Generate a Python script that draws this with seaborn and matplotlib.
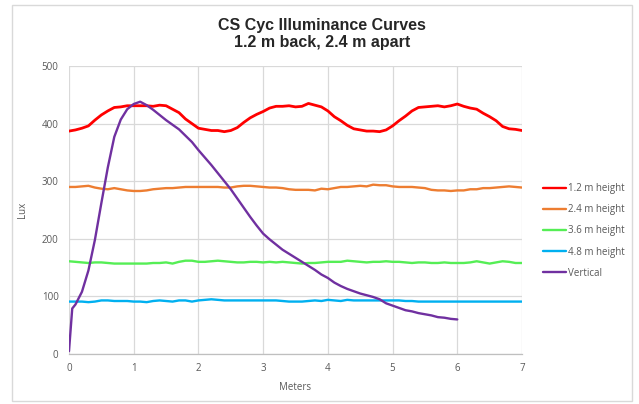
import numpy as np
import pandas as pd
import matplotlib
matplotlib.use("Agg")
import matplotlib.pyplot as plt
import seaborn as sns
from matplotlib.patches import Rectangle

# positions along the cyc, every 0.1 m
meters = np.round(np.arange(0, 7.01, 0.1), 1)

lux_12 = [387, 389, 392, 396, 406, 415, 422, 428, 429, 431,
          431, 431, 431, 430, 432, 431, 425, 419, 408, 400,
          392, 390, 388, 388, 386, 388, 393, 402, 410, 416,
          421, 427, 430, 430, 431, 429, 430, 435, 432, 429,
          422, 412, 405, 397, 391, 389, 387, 387, 386, 389,
          396, 405, 413, 422, 428, 429, 430, 431, 429, 431,
          434, 430, 427, 425, 418, 412, 405, 395, 391, 390,
          388]
lux_24 = [290, 290, 291, 292, 289, 287, 286, 288, 286, 284,
          283, 283, 284, 286, 287, 288, 288, 289, 290, 290,
          290, 290, 290, 290, 289, 289, 291, 292, 292, 291,
          290, 289, 289, 288, 286, 285, 285, 285, 284, 287,
          286, 288, 290, 290, 291, 292, 291, 294, 293, 293,
          291, 290, 290, 290, 289, 288, 285, 284, 284, 283,
          284, 284, 286, 286, 288, 288, 289, 290, 291, 290,
          289]
lux_36 = [161, 160, 159, 158, 159, 159, 158, 157, 157, 157,
          157, 157, 157, 158, 158, 159, 157, 160, 162, 162,
          160, 160, 161, 162, 161, 160, 159, 159, 160, 160,
          159, 160, 159, 160, 159, 158, 157, 158, 158, 159,
          160, 160, 160, 162, 161, 160, 159, 160, 160, 161,
          160, 160, 159, 158, 159, 159, 158, 158, 159, 158,
          158, 158, 159, 161, 159, 157, 159, 161, 160, 158,
          158]
lux_48 = [91, 91, 91, 90, 91, 93, 93, 92, 92, 92,
          91, 91, 90, 92, 93, 92, 91, 93, 93, 91,
          93, 94, 95, 94, 93, 93, 93, 93, 93, 93,
          93, 93, 93, 92, 91, 91, 91, 92, 93, 92,
          94, 93, 92, 94, 93, 93, 93, 93, 93, 93,
          93, 93, 92, 92, 91, 91, 91, 91, 91, 91,
          91, 91, 91, 91, 91, 91, 91, 91, 91, 91,
          91]

meters_vert = [0, 0.05, 0.1, 0.2, 0.3, 0.4, 0.5, 0.6, 0.7, 0.8, 0.9,
               1.0, 1.1, 1.2, 1.3, 1.4, 1.5, 1.6, 1.7, 1.8, 1.9,
               2.0, 2.1, 2.2, 2.3, 2.4, 2.5, 2.6, 2.7, 2.8, 2.9,
               3.0, 3.1, 3.2, 3.3, 3.4, 3.5, 3.6, 3.7, 3.8, 3.9,
               4.0, 4.1, 4.2, 4.3, 4.4, 4.5, 4.6, 4.7, 4.8, 4.9,
               5.0, 5.1, 5.2, 5.3, 5.4, 5.5, 5.6, 5.7, 5.8, 5.9, 6.0]
lux_vert = [5, 79, 86, 108, 145, 198, 262, 324, 377, 407, 425,
            434, 438, 432, 424, 415, 406, 398, 390, 379, 368,
            354, 341, 328, 314, 300, 286, 270, 254, 238, 223,
            209, 199, 190, 181, 174, 167, 160, 153, 146, 138,
            132, 124, 118, 113, 109, 105, 102, 99, 95, 88,
            84, 80, 76, 74, 71, 69, 67, 64, 63, 61, 60]

series_names = ["1.2 m height", "2.4 m height", "3.6 m height", "4.8 m height", "Vertical"]
colors = ["#FF0000", "#ED7D31", "#55EE55", "#00B0F0", "#7030A0"]

frames = []
for name, xs, ys in zip(series_names,
                        [meters, meters, meters, meters, meters_vert],
                        [lux_12, lux_24, lux_36, lux_48, lux_vert]):
    frames.append(pd.DataFrame({"Meters": xs, "Lux": ys, "Series": name}))
df = pd.concat(frames, ignore_index=True)

sns.set_style("white")
plt.rcParams["font.family"] = ["Open Sans", "DejaVu Sans"]

fig = plt.figure(figsize=(6.39, 4.04), dpi=100)
ax = fig.add_axes([69 / 639, 1 - 354 / 404, (522 - 69) / 639, (354 - 66) / 404])

sns.lineplot(data=df, x="Meters", y="Lux", hue="Series", palette=colors,
             estimator=None, sort=False, linewidth=1.7, ax=ax, legend=False)
# thicker red, as in the original
ax.lines[0].set_linewidth(2.0)

ax.set_xlim(0, 7)
ax.set_ylim(0, 500)
ax.set_xticks(range(0, 8))
ax.set_yticks(range(0, 501, 100))
ax.grid(True, color="#D9D9D9", linewidth=0.9)
ax.set_axisbelow(True)
for s in ["top", "right", "left"]:
    ax.spines[s].set_visible(False)
ax.spines["bottom"].set_color("#BFBFBF")
ax.spines["bottom"].set_linewidth(0.9)
ax.tick_params(axis="both", length=0, labelsize=7, labelcolor="#595959")
ax.tick_params(axis="y", pad=7.5)
ax.tick_params(axis="x", pad=6.5)
ax.set_xlabel("Meters", fontsize=7, color="#595959", labelpad=6)
ax.set_ylabel("Lux", fontsize=7, color="#595959", labelpad=10)

handles = [plt.Line2D([], [], color=c, lw=1.7) for c in colors]
fig.legend(handles, series_names, loc="upper left",
           bbox_to_anchor=(543 / 639, 1 - 183 / 404), frameon=False,
           fontsize=7, labelcolor="#595959", handlelength=2.4,
           handletextpad=0.2, labelspacing=1.05, borderpad=0, borderaxespad=0)

fig.text(322 / 639, 1 - 34 / 404, "CS Cyc Illuminance Curves\n1.2 m back, 2.4 m apart",
         ha="center", va="center", fontsize=11.5, fontweight="bold",
         family=["Liberation Sans Narrow", "Liberation Sans"], linespacing=1.1)

fig.patches.append(Rectangle((12 / 639, 3 / 404), 620 / 639, 396 / 404,
                             transform=fig.transFigure, fill=False,
                             edgecolor="#D9D9D9", linewidth=1))

fig.savefig("out.png", dpi=100)
